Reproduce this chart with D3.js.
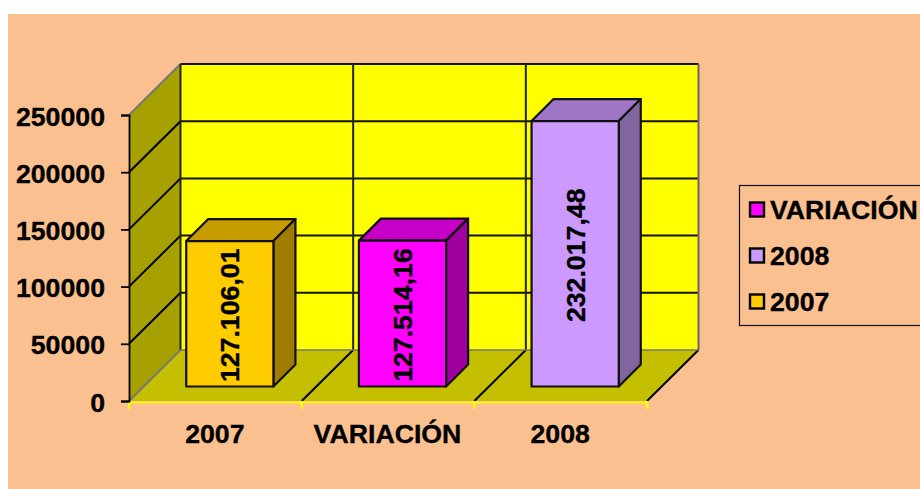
<!DOCTYPE html>
<html><head><meta charset="utf-8">
<script src="https://cdn.jsdelivr.net/npm/d3@7"></script>
<style>html,body{margin:0;padding:0;background:#fff;overflow:hidden}text{font-family:"Liberation Sans",Arial,sans-serif;font-weight:bold;fill:#000;stroke:#000;stroke-width:0.35px}</style>
</head><body><svg id="c" width="920" height="489"></svg>
<script>
const categories = ["2007", "VARIACIÓN", "2008"];
const values = [127106.01, 127514.16, 232017.48];
const valueLabels = ["127.106,01", "127.514,16", "232.017,48"];
const yTicks = [0, 50000, 100000, 150000, 200000, 250000];
const legendItems = ["VARIACIÓN", "2008", "2007"];
const frontColors = ["#FFCC00", "#FF00FF", "#CC99FF"];
const topColors = ["#C69C00", "#C600C6", "#9F77C6"];
const sideColors = ["#A07C00", "#A000A0", "#80659F"];

const svg = d3.select("#c");
const y = d3.scaleLinear().domain([0, 250000]).range([401, 115]);
const x = d3.scaleBand().domain(categories).range([129, 647]);
const dx = 51.5, dy = -51;
const barWidth = x.bandwidth() * 0.505;
const barDepth = 22, barOffset = 14.5;
const line = d3.line();
const FS = 26.7, LW = 2;

svg.append("rect").attr("x", 8).attr("y", 14).attr("width", 912).attr("height", 475).attr("fill", "#FBC08F");

const x0 = x.range()[0], x1 = x.range()[1], yB = y(0), yT = y(250000);
// walls
svg.append("path").attr("d", line([[x0+dx,yT+dy],[x1+dx,yT+dy],[x1+dx,yB+dy],[x0+dx,yB+dy]])+"Z").attr("fill", "#FFFF00");
svg.append("path").attr("d", line([[x0,yT],[x0+dx,yT+dy],[x0+dx,yB+dy],[x0,yB]])+"Z").attr("fill", "#A6A000");
svg.append("path").attr("d", line([[x0,yB],[x0+dx,yB+dy],[x1+dx,yB+dy],[x1,yB]])+"Z").attr("fill", "#C4C000");
// gridlines
yTicks.slice(1).forEach(t => {
  const col = t === 250000 ? "#777" : "#000";
  svg.append("path").attr("d", line([[x0,y(t)],[x0+dx,y(t)+dy]])).attr("stroke", col).attr("stroke-width", LW).attr("fill","none");
  svg.append("path").attr("d", line([[x0+dx,y(t)+dy],[x1+dx,y(t)+dy]])).attr("stroke", "#111").attr("stroke-width", LW).attr("fill","none");
});
// vertical back lines + floor diagonals
const bounds = categories.map(c => x(c)).concat([x1]);
bounds.forEach((b, i) => {
  svg.append("path").attr("d", line([[b+dx,yT+dy],[b+dx,yB+dy]])).attr("stroke", i===3?"#666":"#222").attr("stroke-width", LW).attr("fill","none");
  svg.append("path").attr("d", line([[b,yB],[b+dx,yB+dy]])).attr("stroke", i===0?"#777":"#000").attr("stroke-width", LW).attr("fill","none");
});
svg.append("path").attr("d", line([[x0+dx,yB+dy],[x1+dx,yB+dy]])).attr("stroke","#777").attr("stroke-width",1.6).attr("fill","none");
// front floor edge (yellow) and category ticks
svg.append("path").attr("d", line([[x0,yB+1.5],[x1,yB+1.5]])).attr("stroke","#FFFF00").attr("stroke-width",1.6).attr("fill","none");
bounds.forEach(b => svg.append("path").attr("d", line([[b,yB],[b,yB+8]])).attr("stroke","#FFFF00").attr("stroke-width",2.4).attr("fill","none"));

// y axis
const ax = svg.append("g").attr("transform", `translate(${x0},0)`).call(d3.axisLeft(y).tickValues(yTicks).tickSize(8).tickPadding(16).tickFormat(d3.format("d")));
ax.selectAll("path,line").attr("stroke","#000").attr("stroke-width",1.8);
ax.selectAll("text").attr("font-size",FS).attr("dy","0.38em").style("font-family",'"Liberation Sans",Arial,sans-serif').style("font-weight","bold").attr("fill","#000");

// x labels
svg.append("g").selectAll("text").data(categories).join("text")
  .attr("x", d => x(d)+x.bandwidth()/2 - 0.5).attr("y", 443).attr("text-anchor","middle").attr("font-size",FS).text(d => d);

// bars
categories.forEach((c, i) => {
  const l = x(c) + (x.bandwidth()-barWidth)/2 + barOffset, r = l + barWidth;
  const b = yB - barOffset, t = b - (yB - y(values[i]));
  const g = svg.append("g").attr("stroke","#111").attr("stroke-width",2.2).attr("stroke-linejoin","round");
  g.append("path").attr("fill",topColors[i]).attr("d", line([[l,t],[l+barDepth,t-barDepth],[r+barDepth,t-barDepth],[r,t]])+"Z");
  g.append("path").attr("fill",sideColors[i]).attr("d", line([[r,t],[r+barDepth,t-barDepth],[r+barDepth,b-barDepth],[r,b]])+"Z");
  g.append("path").attr("fill",frontColors[i]).attr("d", line([[l,t],[r,t],[r,b],[l,b]])+"Z");
  svg.append("text").attr("transform",`translate(${(l+r)/2+9.5},${(t+b)/2+1.5})rotate(-90)`).attr("text-anchor","middle").attr("font-size",FS).text(valueLabels[i]);
});

// legend
svg.append("rect").attr("x",739.5).attr("y",185.5).attr("width",200).attr("height",140).attr("fill","none").attr("stroke","#111").attr("stroke-width",1.2);
const legendColors = {"VARIACIÓN":"#FF00FF","2008":"#CC99FF","2007":"#FFCC00"};
const legendY = d3.scalePoint().domain(legendItems).range([209.5,301.5]);
legendItems.forEach(k => {
  svg.append("rect").attr("x",750).attr("y",legendY(k)-7).attr("width",14).attr("height",14).attr("fill",legendColors[k]).attr("stroke","#000").attr("stroke-width",2.4);
  svg.append("text").attr("x",770).attr("y",legendY(k)+9).attr("font-size",FS).text(k);
});
</script></body></html>
